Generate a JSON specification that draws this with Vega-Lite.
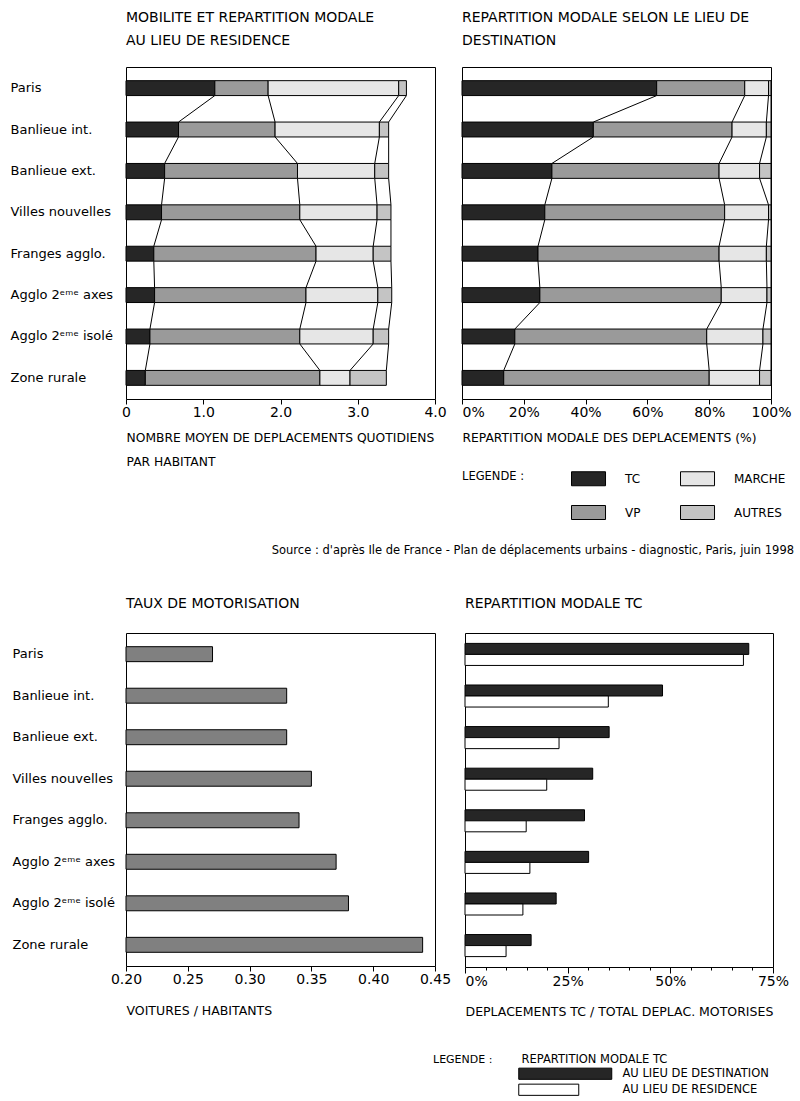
{
  "$schema": "https://vega.github.io/schema/vega-lite/v6.json",
  "background": "white",
  "padding": {"left": 9, "top": 10, "right": 5, "bottom": 5},
  "datasets": {
    "res": [
      {"zone": "Paris", "mode": "TC", "v": 1.15}, {"zone": "Paris", "mode": "VP", "v": 0.69}, {"zone": "Paris", "mode": "MARCHE", "v": 1.69}, {"zone": "Paris", "mode": "AUTRES", "v": 0.10},
      {"zone": "Banlieue int.", "mode": "TC", "v": 0.68}, {"zone": "Banlieue int.", "mode": "VP", "v": 1.25}, {"zone": "Banlieue int.", "mode": "MARCHE", "v": 1.35}, {"zone": "Banlieue int.", "mode": "AUTRES", "v": 0.12},
      {"zone": "Banlieue ext.", "mode": "TC", "v": 0.50}, {"zone": "Banlieue ext.", "mode": "VP", "v": 1.72}, {"zone": "Banlieue ext.", "mode": "MARCHE", "v": 1.00}, {"zone": "Banlieue ext.", "mode": "AUTRES", "v": 0.18},
      {"zone": "Villes nouvelles", "mode": "TC", "v": 0.46}, {"zone": "Villes nouvelles", "mode": "VP", "v": 1.79}, {"zone": "Villes nouvelles", "mode": "MARCHE", "v": 1.00}, {"zone": "Villes nouvelles", "mode": "AUTRES", "v": 0.18},
      {"zone": "Franges agglo.", "mode": "TC", "v": 0.36}, {"zone": "Franges agglo.", "mode": "VP", "v": 2.10}, {"zone": "Franges agglo.", "mode": "MARCHE", "v": 0.74}, {"zone": "Franges agglo.", "mode": "AUTRES", "v": 0.23},
      {"zone": "Agglo 2ᵉᵐᵉ axes", "mode": "TC", "v": 0.37}, {"zone": "Agglo 2ᵉᵐᵉ axes", "mode": "VP", "v": 1.96}, {"zone": "Agglo 2ᵉᵐᵉ axes", "mode": "MARCHE", "v": 0.93}, {"zone": "Agglo 2ᵉᵐᵉ axes", "mode": "AUTRES", "v": 0.18},
      {"zone": "Agglo 2ᵉᵐᵉ isolé", "mode": "TC", "v": 0.31}, {"zone": "Agglo 2ᵉᵐᵉ isolé", "mode": "VP", "v": 1.94}, {"zone": "Agglo 2ᵉᵐᵉ isolé", "mode": "MARCHE", "v": 0.95}, {"zone": "Agglo 2ᵉᵐᵉ isolé", "mode": "AUTRES", "v": 0.20},
      {"zone": "Zone rurale", "mode": "TC", "v": 0.25}, {"zone": "Zone rurale", "mode": "VP", "v": 2.26}, {"zone": "Zone rurale", "mode": "MARCHE", "v": 0.39}, {"zone": "Zone rurale", "mode": "AUTRES", "v": 0.47}
    ],
    "dest": [
      {"zone": "Paris", "mode": "TC", "v": 63.0}, {"zone": "Paris", "mode": "VP", "v": 28.5}, {"zone": "Paris", "mode": "MARCHE", "v": 7.7}, {"zone": "Paris", "mode": "AUTRES", "v": 0.8},
      {"zone": "Banlieue int.", "mode": "TC", "v": 42.5}, {"zone": "Banlieue int.", "mode": "VP", "v": 44.9}, {"zone": "Banlieue int.", "mode": "MARCHE", "v": 11.1}, {"zone": "Banlieue int.", "mode": "AUTRES", "v": 1.5},
      {"zone": "Banlieue ext.", "mode": "TC", "v": 29.1}, {"zone": "Banlieue ext.", "mode": "VP", "v": 54.1}, {"zone": "Banlieue ext.", "mode": "MARCHE", "v": 13.1}, {"zone": "Banlieue ext.", "mode": "AUTRES", "v": 3.7},
      {"zone": "Villes nouvelles", "mode": "TC", "v": 26.8}, {"zone": "Villes nouvelles", "mode": "VP", "v": 58.2}, {"zone": "Villes nouvelles", "mode": "MARCHE", "v": 14.2}, {"zone": "Villes nouvelles", "mode": "AUTRES", "v": 0.8},
      {"zone": "Franges agglo.", "mode": "TC", "v": 24.6}, {"zone": "Franges agglo.", "mode": "VP", "v": 58.6}, {"zone": "Franges agglo.", "mode": "MARCHE", "v": 15.3}, {"zone": "Franges agglo.", "mode": "AUTRES", "v": 1.5},
      {"zone": "Agglo 2ᵉᵐᵉ axes", "mode": "TC", "v": 25.2}, {"zone": "Agglo 2ᵉᵐᵉ axes", "mode": "VP", "v": 58.7}, {"zone": "Agglo 2ᵉᵐᵉ axes", "mode": "MARCHE", "v": 14.8}, {"zone": "Agglo 2ᵉᵐᵉ axes", "mode": "AUTRES", "v": 1.3},
      {"zone": "Agglo 2ᵉᵐᵉ isolé", "mode": "TC", "v": 17.1}, {"zone": "Agglo 2ᵉᵐᵉ isolé", "mode": "VP", "v": 62.1}, {"zone": "Agglo 2ᵉᵐᵉ isolé", "mode": "MARCHE", "v": 18.2}, {"zone": "Agglo 2ᵉᵐᵉ isolé", "mode": "AUTRES", "v": 2.6},
      {"zone": "Zone rurale", "mode": "TC", "v": 13.5}, {"zone": "Zone rurale", "mode": "VP", "v": 66.5}, {"zone": "Zone rurale", "mode": "MARCHE", "v": 16.3}, {"zone": "Zone rurale", "mode": "AUTRES", "v": 3.7}
    ],
    "motor": [
      {"zone": "Paris", "v": 0.27}, {"zone": "Banlieue int.", "v": 0.33}, {"zone": "Banlieue ext.", "v": 0.33}, {"zone": "Villes nouvelles", "v": 0.35},
      {"zone": "Franges agglo.", "v": 0.34}, {"zone": "Agglo 2ᵉᵐᵉ axes", "v": 0.37}, {"zone": "Agglo 2ᵉᵐᵉ isolé", "v": 0.38}, {"zone": "Zone rurale", "v": 0.44}
    ],
    "tc": [
      {"zone": "Paris", "lieu": "AU LIEU DE DESTINATION", "v": 69.1}, {"zone": "Paris", "lieu": "AU LIEU DE RESIDENCE", "v": 67.8},
      {"zone": "Banlieue int.", "lieu": "AU LIEU DE DESTINATION", "v": 48.1}, {"zone": "Banlieue int.", "lieu": "AU LIEU DE RESIDENCE", "v": 34.9},
      {"zone": "Banlieue ext.", "lieu": "AU LIEU DE DESTINATION", "v": 35.1}, {"zone": "Banlieue ext.", "lieu": "AU LIEU DE RESIDENCE", "v": 22.9},
      {"zone": "Villes nouvelles", "lieu": "AU LIEU DE DESTINATION", "v": 31.1}, {"zone": "Villes nouvelles", "lieu": "AU LIEU DE RESIDENCE", "v": 19.9},
      {"zone": "Franges agglo.", "lieu": "AU LIEU DE DESTINATION", "v": 29.1}, {"zone": "Franges agglo.", "lieu": "AU LIEU DE RESIDENCE", "v": 14.9},
      {"zone": "Agglo 2ᵉᵐᵉ axes", "lieu": "AU LIEU DE DESTINATION", "v": 30.1}, {"zone": "Agglo 2ᵉᵐᵉ axes", "lieu": "AU LIEU DE RESIDENCE", "v": 15.8},
      {"zone": "Agglo 2ᵉᵐᵉ isolé", "lieu": "AU LIEU DE DESTINATION", "v": 22.2}, {"zone": "Agglo 2ᵉᵐᵉ isolé", "lieu": "AU LIEU DE RESIDENCE", "v": 14.1},
      {"zone": "Zone rurale", "lieu": "AU LIEU DE DESTINATION", "v": 16.1}, {"zone": "Zone rurale", "lieu": "AU LIEU DE RESIDENCE", "v": 10.0}
    ]
  },
  "config": {
    "font": "DejaVu Sans",
    "view": {"stroke": "black", "strokeWidth": 1},
    "axis": {"labelColor": "black", "titleColor": "black", "tickColor": "black", "domain": false, "grid": false, "titleFontWeight": "normal", "labelFont": "DejaVu Sans", "titleFont": "DejaVu Sans", "labelFlush": false},
    "title": {"fontWeight": "normal", "color": "black", "anchor": "start", "font": "DejaVu Sans", "frame": "group"},
    "legend": {"labelColor": "black", "titleColor": "black", "titleFontWeight": "normal", "labelFont": "DejaVu Sans", "titleFont": "DejaVu Sans"}
  },
  "resolve": {"scale": {"color": "independent", "fill": "independent"}, "legend": {"color": "independent", "fill": "independent"}},
  "spacing": 22,
  "vconcat": [
    {
      "spacing": 27,
      "bounds": "flush",
      "resolve": {"scale": {"color": "independent"}, "legend": {"color": "independent"}},
      "hconcat": [
        {
          "width": 309, "height": 332,
          "title": {"text": ["MOBILITE ET REPARTITION MODALE", "AU LIEU DE RESIDENCE"], "fontSize": 14, "lineHeight": 23, "offset": 19},
          "data": {"name": "res"},
          "transform": [
            {"stack": "v", "groupby": ["zone"], "as": ["x0", "x1"]},
            {"window": [{"op": "lead", "field": "x1", "as": "nx"}, {"op": "lead", "field": "zone", "as": "nz"}], "groupby": ["mode"]}
          ],
          "layer": [
            {
              "transform": [{"filter": "datum.nz != null"}],
              "mark": {"type": "rule", "color": "black", "strokeWidth": 1},
              "encoding": {
                "x": {"field": "x1", "type": "quantitative", "scale": {"domain": [0, 4], "nice": false},
                      "axis": {"values": [0, 1, 2, 3, 4], "labelExpr": "datum.value == 0 ? '0' : format(datum.value, '.1f')", "labelFontSize": 14, "labelPadding": 1, "tickSize": 5,
                               "title": ["NOMBRE MOYEN DE DEPLACEMENTS QUOTIDIENS", "PAR HABITANT"], "titleAnchor": "start", "titleAlign": "left", "titleFontSize": 12.3, "titleLineHeight": 24, "titlePadding": 12}},
                "x2": {"field": "nx"},
                "y": {"field": "zone", "type": "nominal", "bandPosition": 1, "sort": null,
                      "scale": {"domain": ["Paris", "Banlieue int.", "Banlieue ext.", "Villes nouvelles", "Franges agglo.", "Agglo 2ᵉᵐᵉ axes", "Agglo 2ᵉᵐᵉ isolé", "Zone rurale"], "paddingInner": 0.64, "paddingOuter": 0.33},
                      "axis": {"title": null, "labelAlign": "left", "labelPadding": 116, "ticks": false, "labelFontSize": 13}},
                "y2": {"field": "nz", "bandPosition": 0}
              }
            },
            {
              "mark": {"type": "bar", "stroke": "black", "strokeWidth": 1},
              "encoding": {
                "x": {"field": "x0", "type": "quantitative", "scale": {"domain": [0, 4], "nice": false},
                      "axis": {"values": [0, 1, 2, 3, 4], "labelExpr": "datum.value == 0 ? '0' : format(datum.value, '.1f')", "labelFontSize": 14, "labelPadding": 1, "tickSize": 5,
                               "title": ["NOMBRE MOYEN DE DEPLACEMENTS QUOTIDIENS", "PAR HABITANT"], "titleAnchor": "start", "titleAlign": "left", "titleFontSize": 12.3, "titleLineHeight": 24, "titlePadding": 12}},
                "x2": {"field": "x1"},
                "y": {"field": "zone", "type": "nominal", "sort": null,
                      "scale": {"domain": ["Paris", "Banlieue int.", "Banlieue ext.", "Villes nouvelles", "Franges agglo.", "Agglo 2ᵉᵐᵉ axes", "Agglo 2ᵉᵐᵉ isolé", "Zone rurale"], "paddingInner": 0.64, "paddingOuter": 0.33},
                      "axis": {"title": null, "labelAlign": "left", "labelPadding": 116, "ticks": false, "labelFontSize": 13}},
                "color": {"field": "mode", "type": "nominal",
                          "scale": {"domain": ["TC", "VP", "MARCHE", "AUTRES"], "range": ["#262626", "#9a9a9a", "#e6e6e6", "#c4c4c4"]},
                          "legend": null}
              }
            }
          ]
        },
        {
          "width": 309, "height": 332,
          "title": {"text": ["REPARTITION MODALE SELON LE LIEU DE", "DESTINATION"], "fontSize": 14, "lineHeight": 23, "offset": 19},
          "data": {"name": "dest"},
          "transform": [
            {"stack": "v", "groupby": ["zone"], "as": ["x0", "x1"]},
            {"window": [{"op": "lead", "field": "x1", "as": "nx"}, {"op": "lead", "field": "zone", "as": "nz"}], "groupby": ["mode"]}
          ],
          "layer": [
            {
              "transform": [{"filter": "datum.nz != null"}],
              "mark": {"type": "rule", "color": "black", "strokeWidth": 1},
              "encoding": {
                "x": {"field": "x1", "type": "quantitative", "scale": {"domain": [0, 100], "nice": false},
                      "axis": {"values": [0, 20, 40, 60, 80, 100], "labelExpr": "datum.value + '%'", "labelFontSize": 14, "labelPadding": 1, "tickSize": 5,
                               "labelAlign": {"condition": {"test": "datum.value === 0", "value": "left"}, "value": "center"},
                               "title": "REPARTITION MODALE DES DEPLACEMENTS (%)", "titleAnchor": "start", "titleAlign": "left", "titleFontSize": 12.3, "titlePadding": 12}},
                "x2": {"field": "nx"},
                "y": {"field": "zone", "type": "nominal", "bandPosition": 1, "sort": null,
                      "scale": {"domain": ["Paris", "Banlieue int.", "Banlieue ext.", "Villes nouvelles", "Franges agglo.", "Agglo 2ᵉᵐᵉ axes", "Agglo 2ᵉᵐᵉ isolé", "Zone rurale"], "paddingInner": 0.64, "paddingOuter": 0.33},
                      "axis": null},
                "y2": {"field": "nz", "bandPosition": 0}
              }
            },
            {
              "mark": {"type": "bar", "stroke": "black", "strokeWidth": 1},
              "encoding": {
                "x": {"field": "x0", "type": "quantitative", "scale": {"domain": [0, 100], "nice": false},
                      "axis": {"values": [0, 20, 40, 60, 80, 100], "labelExpr": "datum.value + '%'", "labelFontSize": 14, "labelPadding": 1, "tickSize": 5,
                               "labelAlign": {"condition": {"test": "datum.value === 0", "value": "left"}, "value": "center"},
                               "title": "REPARTITION MODALE DES DEPLACEMENTS (%)", "titleAnchor": "start", "titleAlign": "left", "titleFontSize": 12.3, "titlePadding": 12}},
                "x2": {"field": "x1"},
                "y": {"field": "zone", "type": "nominal", "sort": null,
                      "scale": {"domain": ["Paris", "Banlieue int.", "Banlieue ext.", "Villes nouvelles", "Franges agglo.", "Agglo 2ᵉᵐᵉ axes", "Agglo 2ᵉᵐᵉ isolé", "Zone rurale"], "paddingInner": 0.64, "paddingOuter": 0.33},
                      "axis": null},
                "color": {"field": "mode", "type": "nominal",
                          "scale": {"domain": ["TC", "VP", "MARCHE", "AUTRES"], "range": ["#262626", "#9a9a9a", "#e6e6e6", "#c4c4c4"]},
                          "legend": {"orient": "none", "legendX": 0, "legendY": 404, "title": "LEGENDE :", "titleOrient": "left", "titleAnchor": "start", "titleBaseline": "top", "titleFontSize": 11.5, "titlePadding": 46,
                                     "columns": 2, "symbolType": "M-1,-1H3.86V1H-1Z", "symbolSize": 196,
                                     "symbolStrokeColor": "black", "symbolStrokeWidth": 1, "symbolOpacity": 1, "labelOffset": 39, "labelFontSize": 12, "columnPadding": 37, "rowPadding": 15}}
              }
            }
          ]
        }
      ]
    },
    {
      "spacing": 30,
      "bounds": "flush",
      "resolve": {"scale": {"fill": "independent"}, "legend": {"fill": "independent"}},
      "title": {"text": "Source : d'après Ile de France - Plan de déplacements urbains - diagnostic, Paris, juin 1998", "anchor": "end", "frame": "bounds", "fontSize": 11.5, "offset": 40, "dx": 5},
      "hconcat": [
        {
          "width": 309, "height": 333,
          "title": {"text": "TAUX DE MOTORISATION", "fontSize": 14, "offset": 22},
          "data": {"name": "motor"},
          "mark": {"type": "bar", "fill": "#808080", "stroke": "black", "strokeWidth": 1},
          "encoding": {
            "y": {"field": "zone", "type": "nominal", "sort": null,
                  "scale": {"domain": ["Paris", "Banlieue int.", "Banlieue ext.", "Villes nouvelles", "Franges agglo.", "Agglo 2ᵉᵐᵉ axes", "Agglo 2ᵉᵐᵉ isolé", "Zone rurale"], "paddingInner": 0.64, "paddingOuter": 0.33},
                  "axis": {"title": null, "labelAlign": "left", "labelPadding": 114, "ticks": false, "labelFontSize": 13}},
            "x": {"field": "v", "type": "quantitative", "scale": {"domain": [0.2, 0.45], "nice": false, "zero": false},
                  "axis": {"values": [0.2, 0.25, 0.3, 0.35, 0.4, 0.45], "format": ".2f", "labelFontSize": 14, "labelPadding": 1, "tickSize": 5,
                           "title": "VOITURES / HABITANTS", "titleAnchor": "start", "titleAlign": "left", "titleFontSize": 12.5, "titlePadding": 18}},
            "x2": {"datum": 0.2}
          }
        },
        {
          "width": 308, "height": 334,
          "title": {"text": "REPARTITION MODALE TC", "fontSize": 14, "offset": 22},
          "data": {"name": "tc"},
          "mark": {"type": "bar", "stroke": "black", "strokeWidth": 1},
          "encoding": {
            "y": {"field": "zone", "type": "nominal", "sort": null,
                  "scale": {"domain": ["Paris", "Banlieue int.", "Banlieue ext.", "Villes nouvelles", "Franges agglo.", "Agglo 2ᵉᵐᵉ axes", "Agglo 2ᵉᵐᵉ isolé", "Zone rurale"], "paddingInner": 0.47, "paddingOuter": 0.25},
                  "axis": null},
            "yOffset": {"field": "lieu", "type": "nominal", "sort": ["AU LIEU DE DESTINATION", "AU LIEU DE RESIDENCE"]},
            "x": {"field": "v", "type": "quantitative", "scale": {"domain": [0, 75], "nice": false},
                  "axis": {"values": [0, 5, 10, 15, 20, 25, 30, 35, 40, 45, 50, 55, 60, 65, 70, 75],
                           "labelExpr": "datum.value % 25 === 0 ? datum.value + '%' : ''", "labelFontSize": 14, "labelPadding": 1,
                           "labelAlign": {"condition": {"test": "datum.value === 0", "value": "left"}, "value": "center"},
                           "tickSize": {"condition": {"test": "datum.value % 25 === 0", "value": 6}, "value": 3},
                           "title": "DEPLACEMENTS TC / TOTAL DEPLAC. MOTORISES", "titleAnchor": "start", "titleAlign": "left", "titleFontSize": 12.5, "titlePadding": 17}},
            "fill": {"field": "lieu", "type": "nominal",
                     "scale": {"domain": ["REPARTITION MODALE TC", "AU LIEU DE DESTINATION", "AU LIEU DE RESIDENCE"], "range": ["transparent", "#262626", "#ffffff"]},
                     "legend": {"orient": "none", "legendX": -32, "legendY": 421, "title": "LEGENDE :", "titleOrient": "left", "titleAnchor": "start", "titleBaseline": "top", "titleFontSize": 11, "titlePadding": 24,
                                "symbolSize": 64, "symbolStrokeColor": "black", "symbolStrokeWidth": 1, "labelOffset": 94, "labelFontSize": 11.5, "rowPadding": 0,
                                "encode": {
                                  "symbols": {"update": {
                                    "shape": {"signal": "datum.value === 'AU LIEU DE DESTINATION' ? 'M-1,-1.4H22.25V1.4H-1Z' : (datum.value === 'AU LIEU DE RESIDENCE' ? 'M-1,-1.4H14V1.4H-1Z' : 'M0,0Z')"},
                                    "stroke": {"signal": "datum.value === 'REPARTITION MODALE TC' ? 'transparent' : 'black'"}
                                  }},
                                  "labels": {"update": {
                                    "dx": {"signal": "datum.value === 'REPARTITION MODALE TC' ? -101 : 0"}
                                  }}
                                }}}
          }
        }
      ]
    }
  ]
}
